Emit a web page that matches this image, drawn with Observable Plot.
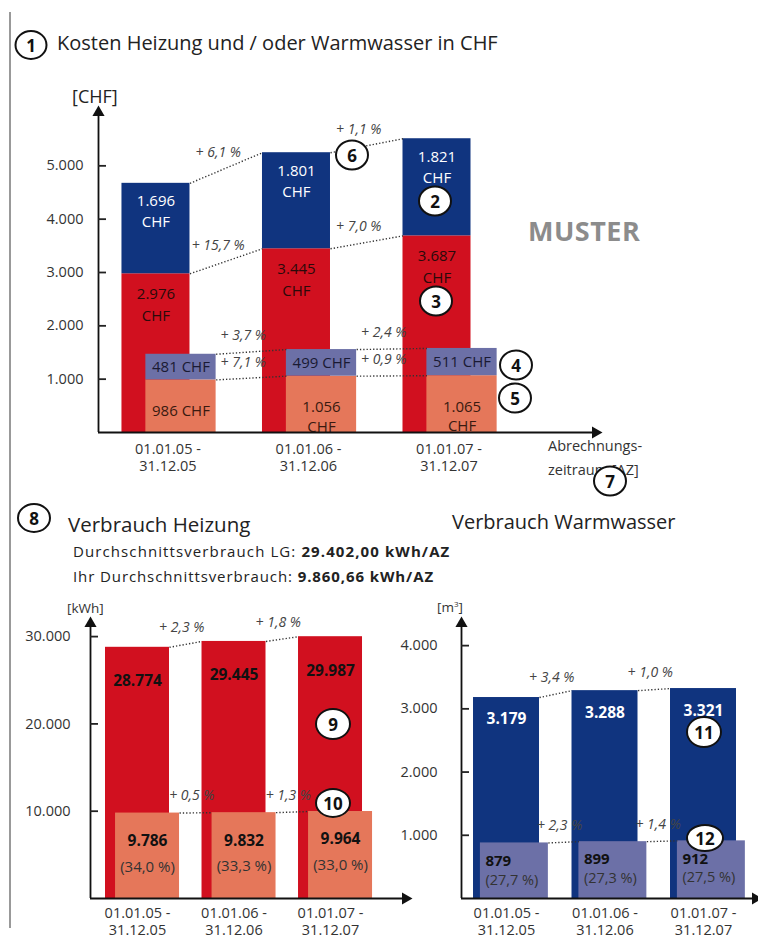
<!DOCTYPE html>
<html><head><meta charset="utf-8">
<script src="https://cdn.jsdelivr.net/npm/d3@7"></script>
<script src="https://cdn.jsdelivr.net/npm/@observablehq/plot@0.6"></script>
<style>
body{margin:0;background:#fff;font-family:"Open Sans",sans-serif;}
#page{position:relative;width:758px;height:943px;overflow:hidden;background:#fff;}
.abs{position:absolute;white-space:nowrap;color:#222;line-height:1.2;}
.circ{position:absolute;box-sizing:border-box;border:2px solid #111;border-radius:50%;background:#fff;display:flex;align-items:center;justify-content:center;font-weight:700;font-size:17px;color:#111;transform:translate(-50%,-50%);}
</style></head><body><div id="page"></div>
<script>
// ---------- data ----------
const periods = ["01.01.05 -\n31.12.05", "01.01.06 -\n31.12.06", "01.01.07 -\n31.12.07"];
// Kosten [CHF]
const kostenHeizungLG = [2976, 3445, 3687];      // red
const kostenWarmwasserLG = [1696, 1801, 1821];   // navy
const kostenHeizungIhr = [986, 1056, 1065];      // orange
const kostenWarmwasserIhr = [481, 499, 511];     // purple
const pctKostenWarmwasserLG = ["6,1", "1,1"];
const pctKostenHeizungLG = ["15,7", "7,0"];
const pctKostenWarmwasserIhr = ["3,7", "2,4"];
const pctKostenHeizungIhr = ["7,1", "0,9"];
const ticksKosten = [1000, 2000, 3000, 4000, 5000];
// Verbrauch Heizung [kWh]
const heizungLG = [28774, 29445, 29987];
const heizungIhr = [9786, 9832, 9964];
const heizungAnteil = ["34,0", "33,3", "33,0"];
const pctHeizungLG = ["2,3", "1,8"];
const pctHeizungIhr = ["0,5", "1,3"];
const ticksHeizung = [10000, 20000, 30000];
// Verbrauch Warmwasser [m3]
const wasserLG = [3179, 3288, 3321];
const wasserIhr = [879, 899, 912];
const wasserAnteil = ["27,7", "27,3", "27,5"];
const pctWasserLG = ["3,4", "1,0"];
const pctWasserIhr = ["2,3", "1,4"];
const ticksWasser = [1000, 2000, 3000, 4000];

// ---------- helpers ----------
const de = d3.formatLocale({decimal: ",", thousands: ".", grouping: [3], currency: ["", ""]});
const fmt = de.format(",d");
const C = {red: "#d1101f", navy: "#10347f", purple: "#6c70a7", orange: "#e5775a"};
const idx = [0, 1, 2], pairs = [0, 1];
const page = document.getElementById("page");
const baseStyle = {fontFamily: "Open Sans", fontSize: "15px", background: "transparent", overflow: "visible", maxWidth: "none", color: "#222"};

function place(svg, left, top) {
  svg.style.position = "absolute"; svg.style.left = left + "px"; svg.style.top = top + "px";
  page.appendChild(svg);
}
function txt(html, x, y, css) {
  const d = document.createElement("div");
  d.className = "abs"; d.innerHTML = html;
  d.style.left = x + "px"; d.style.top = y + "px"; d.style.transform = "translateY(-50%)";
  Object.assign(d.style, css || {});
  page.appendChild(d); return d;
}
function circ(n, x, y, w = 34, h = 31) {
  const d = document.createElement("div");
  d.className = "circ"; d.textContent = n;
  d.style.left = x + "px"; d.style.top = y + "px"; d.style.width = w + "px"; d.style.height = h + "px";
  page.appendChild(d);
}
const pctText = a => i => "+ " + a[i] + " %";
const pctStyle = {fontStyle: "italic", fontSize: 14, fill: "#444"};

function axesMarks(xd, yd, yTicks, pad, xPad = 8, xdx = 0) {
  return [
    Plot.ruleX([xd[0]], {stroke: "#111", strokeWidth: 1.8}),
    Plot.ruleY([0], {stroke: "#111", strokeWidth: 1.8}),
    Plot.dot([0], {x: xd[0], y: yd[1], symbol: "triangle", r: 4.5, fill: "#111", stroke: "none"}),
    Plot.dot([0], {x: xd[1], y: 0, symbol: "triangle", r: 4.5, fill: "#111", stroke: "none", rotate: 90}),
    Plot.axisY({ticks: yTicks, tickFormat: fmt, tickSize: 8, dx: 8, tickPadding: pad, strokeWidth: 1.8, label: null, fontSize: 14.5, fill: "#333"}),
    Plot.axisX({ticks: idx, tickFormat: i => periods[i], tickSize: 0, tickPadding: xPad, dx: xdx, label: null, fontSize: 14.5, lineHeight: 1.15, fill: "#333"})
  ];
}
const linkMark = (yf, o, w) => Plot.link(pairs, {x1: i => i + o + w / 2, x2: i => i + 1 + o - w / 2, y1: yf, y2: i => yf(i + 1), stroke: "#333", strokeWidth: 1.4, strokeDasharray: "1.3,2"});

// ---------- chart 1: Kosten ----------
{
  const bw = 0.484, sw = 0.5, off = 0.178;
  const xd = [-0.409, 3.128], yd = [0, 6000];
  const tot = i => kostenHeizungLG[i] + kostenWarmwasserLG[i];
  const totI = i => kostenHeizungIhr[i] + kostenWarmwasserIhr[i];
  const big = {x1: i => i - bw / 2, x2: i => i + bw / 2};
  const sml = {x1: i => i + off - sw / 2, x2: i => i + off + sw / 2};
  const pl = (yf, o, a) => Plot.text(pairs, {x: i => i + 0.5 + o, y: i => (yf(i) + yf(i + 1)) / 2, text: pctText(a), dy: -16, dx: -8, ...pctStyle});
  const yH = i => kostenHeizungLG[i], yHI = i => kostenHeizungIhr[i];
  const svg = Plot.plot({
    width: 758, height: 400, marginLeft: 98, marginRight: 163, marginTop: 22, marginBottom: 58,
    x: {domain: xd, axis: null}, y: {domain: yd, axis: null}, style: baseStyle,
    marks: [
      Plot.rect(idx, {...big, y1: 0, y2: yH, fill: C.red}),
      Plot.rect(idx, {...big, y1: yH, y2: tot, fill: C.navy}),
      Plot.rect(idx, {...sml, y1: 0, y2: yHI, fill: C.orange}),
      Plot.rect(idx, {...sml, y1: yHI, y2: totI, fill: C.purple}),
      linkMark(tot, 0, bw), linkMark(yH, 0, bw), linkMark(totI, off, sw), linkMark(yHI, off, sw),
      pl(tot, 0, pctKostenWarmwasserLG), pl(yH, 0, pctKostenHeizungLG),
      pl(totI, off, pctKostenWarmwasserIhr), pl(yHI, off, pctKostenHeizungIhr),
      Plot.text(idx, {x: i => i, y: tot, text: i => fmt(kostenWarmwasserLG[i]) + "\nCHF", lineAnchor: "top", dy: 8, fill: "white", fontSize: 15, lineHeight: 1.4}),
      Plot.text(idx, {x: i => i, y: yH, text: i => fmt(kostenHeizungLG[i]) + "\nCHF", lineAnchor: "top", dy: 10, fill: "#2a0a0a", fontSize: 15, lineHeight: 1.45}),
      Plot.text(idx, {x: i => i + off, y: i => kostenHeizungIhr[i] + kostenWarmwasserIhr[i] / 2, text: i => fmt(kostenWarmwasserIhr[i]) + " CHF", fill: "#1a1a33", fontSize: 15}),
      Plot.text(idx, {x: i => i + off, y: yHI, text: i => kostenHeizungIhr[i] >= 1000 ? fmt(kostenHeizungIhr[i]) + "\nCHF" : fmt(kostenHeizungIhr[i]) + " CHF", lineAnchor: "top", dy: 22, fill: "#3a1a10", fontSize: 15, lineHeight: 1.3}),
      ...axesMarks(xd, yd, ticksKosten, 15, 10, 12)
    ]
  });
  place(svg, 0, 90);
}

// ---------- chart 2: Verbrauch Heizung ----------
{
  const bw = 0.663, sw = 0.663, off = 0.104;
  const xd = [-0.487, 2.777], yd = [0, 31500];
  const big = {x1: i => i - bw / 2, x2: i => i + bw / 2};
  const sml = {x1: i => i + off - sw / 2, x2: i => i + off + sw / 2};
  const yL = i => heizungLG[i], yI = i => heizungIhr[i];
  const pl = (yf, o, a) => Plot.text(pairs, {x: i => i + 0.5 + o, y: i => (yf(i) + yf(i + 1)) / 2, text: pctText(a), dy: -17, dx: -4, ...pctStyle});
  const svg = Plot.plot({
    width: 420, height: 340, marginLeft: 90, marginRight: 15, marginTop: 23, marginBottom: 42,
    x: {domain: xd, axis: null}, y: {domain: yd, axis: null}, style: baseStyle,
    marks: [
      Plot.rect(idx, {...big, y1: 0, y2: yL, fill: C.red}),
      Plot.rect(idx, {...sml, y1: 0, y2: yI, fill: C.orange}),
      linkMark(yL, 0, bw), linkMark(yI, off, sw),
      pl(yL, 0, pctHeizungLG), pl(yI, off, pctHeizungIhr),
      Plot.text(idx, {x: i => i, y: yL, text: i => fmt(heizungLG[i]), dy: 34, fontWeight: "bold", fontSize: 15.5, fill: "#111"}),
      Plot.text(idx, {x: i => i + off, y: yI, text: i => fmt(heizungIhr[i]), dy: 28, fontWeight: "bold", fontSize: 15.5, fill: "#111"}),
      Plot.text(idx, {x: i => i + off, y: yI, text: i => "(" + heizungAnteil[i] + " %)", dy: 54, fontSize: 15, fill: "#333"}),
      ...axesMarks(xd, yd, ticksHeizung, 20)
    ]
  });
  place(svg, 0, 600);
}

// ---------- chart 3: Verbrauch Warmwasser ----------
{
  const bw = 0.67, sw = 0.69, off = 0.08;
  const xd = [-0.457, 2.528], yd = [0, 4350];
  const big = {x1: i => i - bw / 2, x2: i => i + bw / 2};
  const sml = {x1: i => i + off - sw / 2, x2: i => i + off + sw / 2};
  const yL = i => wasserLG[i], yI = i => wasserIhr[i];
  const pl = (yf, o, a) => Plot.text(pairs, {x: i => i + 0.5 + o, y: i => (yf(i) + yf(i + 1)) / 2, text: pctText(a), dy: -17, dx: -4, ...pctStyle});
  const svg = Plot.plot({
    width: 378, height: 340, marginLeft: 81, marginRight: 3, marginTop: 23, marginBottom: 42,
    x: {domain: xd, axis: null}, y: {domain: yd, axis: null}, style: baseStyle,
    marks: [
      Plot.rect(idx, {...big, y1: 0, y2: yL, fill: C.navy}),
      Plot.rect(idx, {...sml, y1: 0, y2: yI, fill: C.purple}),
      linkMark(yL, 0, bw), linkMark(yI, off, sw),
      pl(yL, 0, pctWasserLG), pl(yI, off, pctWasserIhr),
      Plot.text(idx, {x: i => i, y: yL, text: i => fmt(wasserLG[i]), dy: 22, fontWeight: "bold", fontSize: 15.5, fill: "white"}),
      Plot.text(idx, {x: i => i + off - sw / 2, y: yI, text: i => fmt(wasserIhr[i]), dy: 18, dx: 5, textAnchor: "start", fontWeight: "bold", fontSize: 15, fill: "#111"}),
      Plot.text(idx, {x: i => i + off - sw / 2, y: yI, text: i => "(" + wasserAnteil[i] + " %)", dy: 37, dx: 5, textAnchor: "start", fontSize: 14.5, fill: "#333"}),
      ...axesMarks(xd, yd, ticksWasser, 24)
    ]
  });
  place(svg, 380, 600);
}

// ---------- HTML text & annotations ----------
const vline = document.createElement("div");
Object.assign(vline.style, {position: "absolute", left: "9px", top: "12px", width: "1.5px", height: "916px", background: "#999"});
page.appendChild(vline);

txt("Kosten Heizung und / oder Warmwasser in CHF", 57, 43, {fontSize: "20px"});
txt("[CHF]", 72, 97, {fontSize: "18px"});
txt("MUSTER", 528, 231, {fontSize: "27px", fontWeight: "700", color: "#8c8c8c", letterSpacing: "0.5px"});
txt("Abrechnungs-", 548, 446, {fontSize: "14.5px", color: "#333"});
txt("zeitraum [AZ]", 548, 470, {fontSize: "14.5px", color: "#333"});
txt("Verbrauch Heizung", 68, 524, {fontSize: "20.5px"});
txt("Durchschnittsverbrauch LG: <b>29.402,00 kWh/AZ</b>", 73, 551, {fontSize: "15px", letterSpacing: "1.1px"});
txt("Ihr Durchschnittsverbrauch: <b>9.860,66 kWh/AZ</b>", 73, 576, {fontSize: "15px", letterSpacing: "0.9px"});
txt("Verbrauch Warmwasser", 452, 522, {fontSize: "20px"});
txt("[kWh]", 67, 608, {fontSize: "13.5px", color: "#333"});
txt("[m<sup style='font-size:8px'>3</sup>]", 437, 607, {fontSize: "13.5px", color: "#333"});

circ(1, 31, 45, 33, 30);
circ(6, 352, 155);
circ(2, 435, 201);
circ(3, 436, 301);
circ(4, 516, 365);
circ(5, 515, 398);
circ(7, 610, 481);
circ(8, 34, 518, 34, 30);
circ(9, 333, 724, 36, 32);
circ(10, 333, 803, 36, 30);
circ(11, 704, 732, 36, 32);
circ(12, 705, 838, 38, 28);
</script>
</body></html>
